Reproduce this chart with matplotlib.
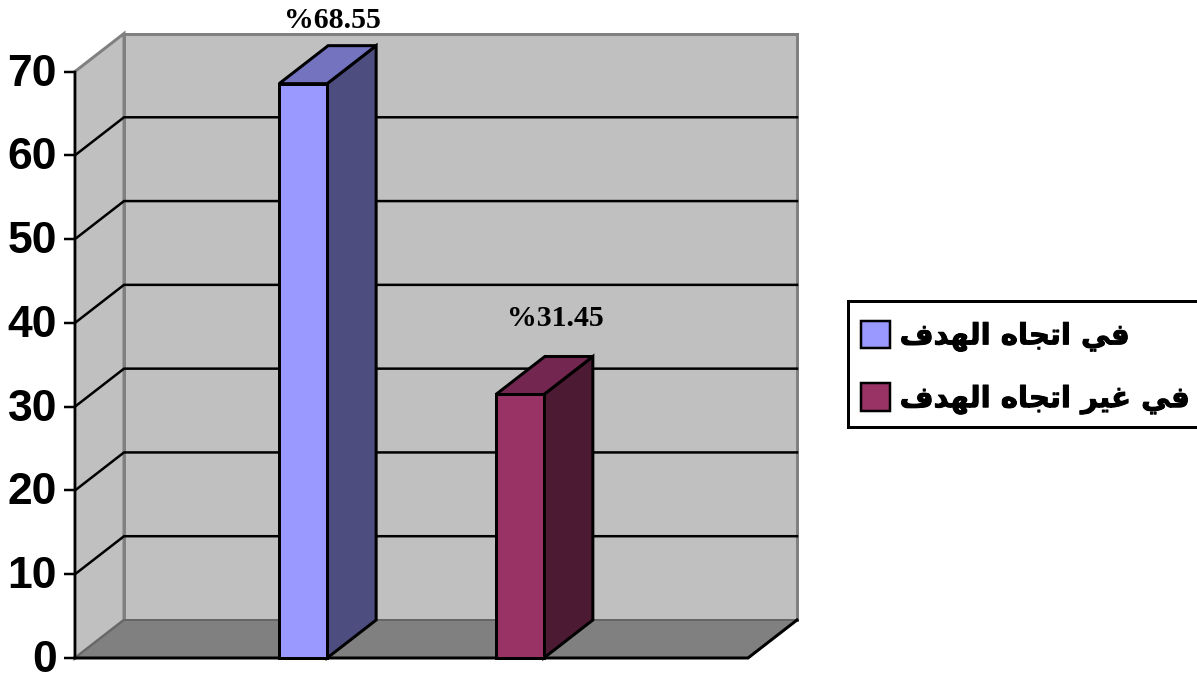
import matplotlib
matplotlib.use("Agg")
import matplotlib.pyplot as plt
from matplotlib.patches import Polygon, Patch, Rectangle
from matplotlib.transforms import ScaledTranslation
import matplotlib.patheffects as pe

# Chart values
categories = ["\u0641\u064a \u0627\u062a\u062c\u0627\u0647 \u0627\u0644\u0647\u062f\u0641",
              "\u0641\u064a \u063a\u064a\u0631 \u0627\u062a\u062c\u0627\u0647 \u0627\u0644\u0647\u062f\u0641"]
values = [68.55, 31.45]
bar_centres = [0.339, 0.661]
value_labels = ["%68.55", "%31.45"]
label_offsets_px = [(29, 63), (36, 76)]
y_ticks = [0, 10, 20, 30, 40, 50, 60, 70]

# Colours: front, side, top of every bar
front_colours = ["#9999FF", "#993366"]
side_colours = ["#4D4D80", "#4D1A33"]
top_colours = ["#7373BF", "#732650"]
WALL = "#C0C0C0"
FLOOR = "#808080"
EDGE = "#808080"

# Contextual glyphs in visual (left-to-right) order, since the text engine does no shaping
LEGEND_GLYPHS = {
    categories[0]: "\uFED1\uFEAA\uFEEC\uFEDF\uFE8D \uFEE9\uFE8E\uFEA0\uFE97\uFE8D \uFEF2\uFED3",
    categories[1]: "\uFED1\uFEAA\uFEEC\uFEDF\uFE8D \uFEE9\uFE8E\uFEA0\uFE97\uFE8D \uFEAE\uFEF4\uFECF \uFEF2\uFED3",
}

W, H = 1197, 678
PX = 72 / 100  # points per pixel at the saved resolution

fig = plt.figure(figsize=(W / 100, H / 100), dpi=100, facecolor="white")
ax = fig.add_axes([75 / W, (H - 658) / H, 673 / W, 586.5 / H])
ax.set_xlim(0, 1)
ax.set_ylim(0, 70)
ax.patch.set_visible(False)

# Oblique depth of the box, in data units
DX = 49 / 673
DY = 38 / (586.5 / 70)
BAR_W = 48 / 673


def poly(points, face, edge, lw, z):
    ax.add_patch(Polygon(points, closed=True, facecolor=face, edgecolor=edge,
                         linewidth=lw * PX, joinstyle="miter", clip_on=False, zorder=z))


# Walls and floor
poly([(DX, DY), (1 + DX, DY), (1 + DX, 70 + DY), (DX, 70 + DY)], WALL, EDGE, 3, 1)
poly([(0, 0), (DX, DY), (DX, 70 + DY), (0, 70)], WALL, EDGE, 3, 1)
poly([(0, 0), (1, 0), (1 + DX, DY), (DX, DY)], FLOOR, "#666666", 2, 1.5)

# Gridlines run along the side wall and across the back wall
for v in y_ticks[1:-1]:
    ax.plot([0, DX, 1 + DX], [v, v + DY, v + DY], color="black", lw=2.5 * PX,
            clip_on=False, zorder=2, solid_joinstyle="miter")

# Front and right edge of the floor
ax.plot([0, 1, 1 + DX], [0, 0, DY], color="black", lw=3 * PX, clip_on=False, zorder=3,
        solid_joinstyle="miter")

# Bars: side face, top face, front face
for xc, v, fc, sc, tc in zip(bar_centres, values, front_colours, side_colours, top_colours):
    x0, x1 = xc - BAR_W / 2, xc + BAR_W / 2
    poly([(x1, 0), (x1 + DX, DY), (x1 + DX, v + DY), (x1, v)], sc, "black", 3, 4)
    poly([(x0, v), (x1, v), (x1 + DX, v + DY), (x0 + DX, v + DY)], tc, "black", 3, 4)
    poly([(x0, 0), (x1, 0), (x1, v), (x0, v)], fc, "black", 3, 5)

# Value labels
for xc, v, text, (ox, oy) in zip(bar_centres, values, value_labels, label_offsets_px):
    ax.annotate(text, xy=(xc, v), xytext=(ox * PX, oy * PX), textcoords="offset points",
                ha="center", va="center", fontsize=21.5, fontweight="bold",
                family="Liberation Serif", annotation_clip=False, zorder=6)

# Value axis
for side in ("top", "right", "bottom"):
    ax.spines[side].set_visible(False)
ax.spines["left"].set_linewidth(2.5 * PX)
ax.spines["left"].set_zorder(3)
ax.set_xticks([])
ax.set_yticks(y_ticks)
ax.tick_params(axis="y", length=11 * PX, width=2.5 * PX, pad=7 * PX)
lift = ScaledTranslation(0, 2 * PX / 72, fig.dpi_scale_trans)
for t in ax.get_yticklabels():
    t.set_fontfamily("Liberation Sans")
    t.set_fontweight("bold")
    t.set_fontsize(32)
    t.set_transform(t.get_transform() + lift)

# Legend frame runs past the right edge of the figure
fig.add_artist(Rectangle((848 / W, 1 - 427 / H), 360 / W, 126 / H, transform=fig.transFigure,
                         facecolor="white", edgecolor="black", linewidth=3 * PX))
handles = [Patch(facecolor=c, edgecolor="black", linewidth=2.5 * PX) for c in front_colours]
leg = fig.legend(handles, [LEGEND_GLYPHS[c] for c in categories],
                 loc="upper left", bbox_to_anchor=(846 / W, 1 - 306 / H),
                 bbox_transform=fig.transFigure, borderaxespad=0,
                 prop={"family": "DejaVu Sans", "weight": "bold", "size": 21},
                 handlelength=1.0, handleheight=1.08, handletextpad=0.34,
                 labelspacing=1.1, borderpad=0.5, frameon=False)
for text in leg.get_texts():
    text.set_path_effects([pe.withStroke(linewidth=0.7, foreground="black")])

fig.savefig("out.png", dpi=100)
